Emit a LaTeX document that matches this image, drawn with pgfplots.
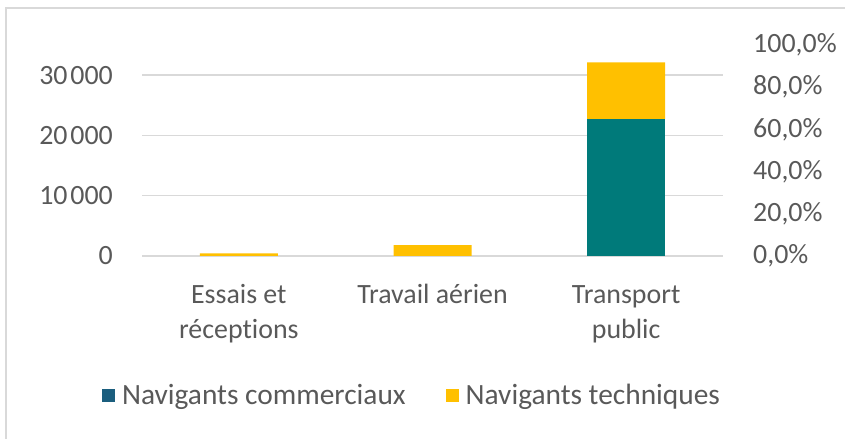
\documentclass[border=0pt]{standalone}
\usepackage{pgfplots}
\pgfplotsset{compat=1.18}
\usepackage{fontspec}
\setmainfont{Carlito}[Ligatures=NoCommon]

\definecolor{navteal}{HTML}{007A7A}
\definecolor{navblue}{HTML}{1B5E7E}
\definecolor{navyellow}{HTML}{FFC000}
\definecolor{txtgray}{HTML}{595959}
\definecolor{gridgray}{HTML}{D9D9D9}

\newcommand{\lblfont}{\fontsize{28}{35}\selectfont}

\begin{document}
\begin{tikzpicture}[x=1bp,y=1bp]
\useasboundingbox (0,0) rectangle (845,439);
\draw[line width=2bp, gridgray] (6,0) -- (6,431) -- (845,431);

% left axis: the bars
\begin{axis}[
    at={(142bp,183bp)}, anchor=south west,
    scale only axis, width=581bp, height=211bp,
    ybar stacked, bar width=78bp,
    xmin=-0.5, xmax=2.5, ymin=0, ymax=35000,
    scaled y ticks=false,
    xtick={0,1,2},
    xticklabels={{\strut Essais et\\réceptions},{\strut Travail aérien},{\strut Transport\\public}},
    xticklabel style={align=center, anchor=north, inner sep=0pt, yshift=-23bp, text=txtgray, font=\lblfont},
    ytick={0,10000,20000,30000},
    yticklabels={0,10\hspace{0.1em}000,20\hspace{0.1em}000,30\hspace{0.1em}000},
    yticklabel style={anchor=east, inner sep=0pt, xshift=-29bp, text=txtgray, font=\lblfont},
    major tick length=0pt,
    axis line style={draw=none},
    ymajorgrids, grid style={gridgray, line width=1.5bp},
    legend style={at={(0.463,-0.659)}, anchor=center, draw=none, fill=none,
        legend columns=2, font=\fontsize{29.5}{35}\selectfont, text=txtgray,
        nodes={inner sep=0pt},
        /tikz/every odd column/.append style={column sep=7bp},
        /tikz/every even column/.append style={column sep=40bp}},
    legend image code/.code={\fill[#1] (0bp,-6.5bp) rectangle (13bp,6.5bp);},
]
\addplot[fill=navteal, draw=none, forget plot] coordinates {(0,0) (1,0) (2,22700)};
\addplot[fill=navyellow, draw=none, forget plot] coordinates {(0,450) (1,1800) (2,9400)};
\addlegendimage{fill=navblue, draw=none}
\addlegendentry{Navigants commerciaux}
\addlegendimage{fill=navyellow, draw=none}
\addlegendentry{Navigants techniques}
\end{axis}

% right axis: percentages
\begin{axis}[
    at={(142bp,183bp)}, anchor=south west,
    scale only axis, width=581bp, height=211bp,
    xmin=0, xmax=1, ymin=0, ymax=100,
    axis y line*=right, hide x axis,
    axis line style={draw=none},
    major tick length=0pt,
    ytick={0,20,40,60,80,100},
    yticklabels={{0,0\%},{20,0\%},{40,0\%},{60,0\%},{80,0\%},{100,0\%}},
    yticklabel style={anchor=west, inner sep=0pt, xshift=30bp, text=txtgray, font=\lblfont},
]
\addplot[draw=none] coordinates {(0,0) (1,0)};
\end{axis}
\end{tikzpicture}
\end{document}
